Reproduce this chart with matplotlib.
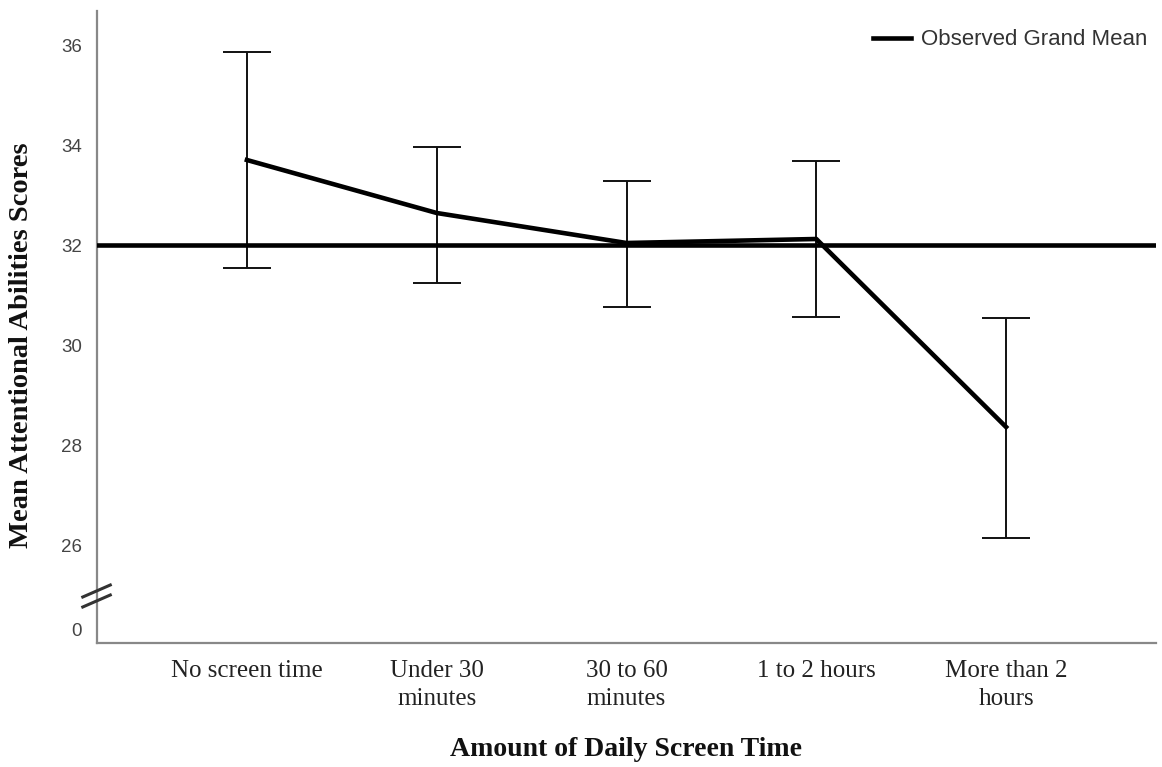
import matplotlib
matplotlib.use("Agg")
import matplotlib.pyplot as plt
import numpy as np

categories = ["No screen time", "Under 30\nminutes", "30 to 60\nminutes", "1 to 2 hours", "More than 2\nhours"]
means = [33.70, 32.64, 32.04, 32.12, 28.36]
upper = [35.86, 33.96, 33.28, 33.68, 30.54]
lower = [31.54, 31.24, 30.76, 30.56, 26.14]
grand_mean = 32.0
ytick_vals = [26, 28, 30, 32, 34, 36]
ytick_labels = ["26", "28", "30", "32", "34", "36"]
zero_pos = 24.3  # position of the "0" label below the axis break

fig = plt.figure(figsize=(11.62, 7.67), dpi=100)
ax = fig.add_axes([97/1162, 1-643/767, (1156-97)/1162, (643-11)/767])

x = np.arange(len(categories))
means_a = np.array(means)
yerr = [means_a - np.array(lower), np.array(upper) - means_a]

ax.errorbar(x, means_a, yerr=yerr, fmt="none", ecolor="#111111", elinewidth=1.4,
            capsize=17, capthick=1.4, zorder=2)
ax.plot(x, means_a, color="black", lw=3.3, zorder=3)
ax.axhline(grand_mean, color="black", lw=3.3, zorder=3, label="Observed Grand Mean")

ax.set_xlim(-0.79, 4.79)
ax.set_ylim(24.04, 36.68)
ax.set_yticks(ytick_vals + [zero_pos])
ax.set_yticklabels(ytick_labels + ["0"], fontfamily="Liberation Sans", fontsize=13.5, color="#444444")
ax.set_xticks(x)
ax.set_xticklabels(categories, fontfamily="Liberation Serif", fontsize=18, color="#222222",
                   linespacing=1.4)
ax.tick_params(axis="y", length=0, pad=11)
ax.tick_params(axis="x", length=0, pad=12)

for s in ["top", "right"]:
    ax.spines[s].set_visible(False)
for s in ["left", "bottom"]:
    ax.spines[s].set_color("#888888")
    ax.spines[s].set_linewidth(1.6)

# axis break marks
for yc in (24.88, 25.08):
    ax.plot([-0.865, -0.72], [yc - 0.12, yc + 0.12], color="#333333", lw=2.2,
            clip_on=False, zorder=5)

ax.set_xlabel("Amount of Daily Screen Time", fontfamily="Liberation Serif", fontweight="bold",
              fontsize=20, color="#111111")
ax.xaxis.set_label_coords(0.5, -0.149)
ax.set_ylabel("Mean Attentional Abilities Scores", fontfamily="Liberation Serif", fontweight="bold",
              fontsize=20.5, color="#111111")
ax.yaxis.set_label_coords(-0.0595, 0.472)

leg = ax.legend(loc="upper right", frameon=False, prop={"family": "Liberation Sans", "size": 16},
                handlelength=1.7, handletextpad=0.45, borderaxespad=0.0, bbox_to_anchor=(1.0, 0.985))
for t in leg.get_texts():
    t.set_color("#333333")

fig.savefig("out.png", dpi=100)
